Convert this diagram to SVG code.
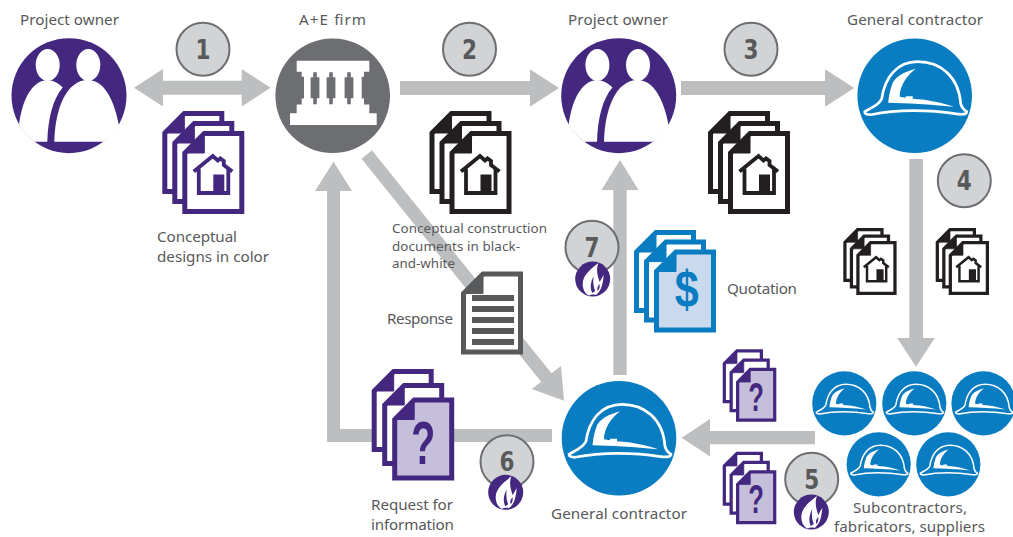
<svg xmlns="http://www.w3.org/2000/svg" width="1013" height="537" viewBox="0 0 1013 537">
<style>
text{font-family:"Noto Sans","Liberation Sans",sans-serif;fill:#58595b;font-size:15.2px}
.s{font-size:13.4px}
.num{font-family:"DejaVu Sans",sans-serif;font-weight:bold;font-size:26px;text-anchor:middle}
.glyph{font-family:"Liberation Sans",sans-serif;font-weight:bold;text-anchor:middle;fill:currentColor}
.arrow{fill:#bcbec0}
.badge{fill:#d1d3d4;stroke:#6d6e71;stroke-width:2}
.pg{stroke:currentColor;stroke-width:5;fill:#fff}
.pg2{stroke:currentColor;stroke-width:5}
.fold{fill:currentColor;stroke:currentColor;stroke-width:1}
.purple{color:#44287f}.black{color:#231f20}.blue{color:#0a7cc1}.dark{color:#58595b}
.lp{fill:#c5bfdc}.lb{fill:#c9d9ee}
.blu{fill:#0a7cc1}.pur{fill:#44287f}
.w{fill:#fff}
</style>
<defs>
<g id="page"><path d="M22 2.500H59.500V80.500H2.500V22Z"/><path class="fold" d="M2.500 22L22 2.500V22Z"/></g>
<g id="house">
<path d="M11.500 40.500L30.500 25L35.500 29.500L38 27.500L41.500 30V34L50 40.500" fill="none" stroke="currentColor" stroke-width="3.800"/>
<path d="M16.500 38V62H46V38" fill="none" stroke="currentColor" stroke-width="3.800"/>
<rect x="31" y="43.500" width="11" height="19" fill="currentColor"/>
</g>
<g id="stack-house">
<use href="#page" class="pg"/>
<use href="#page" class="pg" x="10" y="10"/>
<use href="#page" class="pg" x="20" y="20"/>
<use href="#house" x="20" y="20"/>
</g>
<g id="stack-q">
<use href="#page" class="pg"/>
<use href="#page" class="pg" x="10.500" y="14"/>
<use href="#page" class="pg2 lp" x="20.500" y="28.500"/>
<text class="glyph" x="51.500" y="94.500" textLength="24" lengthAdjust="spacingAndGlyphs" style="font-size:62px">?</text>
</g>
<g id="people">
<circle r="57.500" class="pur"/>
<ellipse cx="-21.300" cy="-30.700" rx="12" ry="16" class="w"/>
<ellipse cx="19.300" cy="-30.700" rx="12" ry="16" class="w"/>
<path class="w" d="M-50 29C-47 6 -38 -15 -22 -15.500C-15 -15.500 -10 -12 -6.300 -8.300C-16 3 -21 22 -21.700 46H-34.500A57.500 57.500 0 0 1 -50 29Z"/>
<path class="w" d="M50 30C45 4 35 -15.700 19 -15.700C-3 -15.700 -14 14 -14.700 46H34.500A57.500 57.500 0 0 0 50 30Z"/>
</g>
<g id="helmet">
<circle r="57.300" class="blu"/>
<path d="M-50 16C-44 12 -36 10 -33 3C-30 -18 -18 -34 3 -34C25 -34 44 -20 46 8C47 12 49 14 52 16C52 19 47 19 40 18C25 15.500 12 15 -1 15C-20 15 -34 17 -44 19C-48 19 -50 18 -50 16Z" fill="none" stroke="#fff" stroke-width="2.700"/>
<path class="w" d="M1 -27C-10 -24 -21 -19 -23 -10C-25 -4 -26 1 -26.500 7C-8 7.500 15 8.500 39 11C28 7 14 4 -2 3V.500H-9V2L-15 1C-15 -10 -8 -20 1 -27Z"/>
</g>
<g id="flame">
<circle r="17.500" class="pur"/>
<path class="w" d="M5.700 -16C-2 -10 -10 -4 -10 5C-10 11 -7 15 -4 16.500C-2 16 1 15 3 16C6 14 10 10 11 -4C9 -1 8 1 7 3C5 -3 3 -9 5.700 -16Z"/>
<path class="pur" d="M-.500 14C-3 8 -2 3 1 -3C0 4 1 8 2.500 12ZM5 12C4 9 5 7 7 5C7 8 7 10 5 12Z"/>
</g>
</defs>

<g id="connectors">
<polygon class="arrow" points="134,87.700 163,69 163,80.700 241.700,80.700 241.700,69 270.700,87.700 241.700,106.400 241.700,94.700 163,94.700 163,106.400"/>
<polygon class="arrow" points="400,81 530,81 530,69.300 559,88 530,106.700 530,95 400,95"/>
<polygon class="arrow" points="681,81 825,81 825,69.300 854.300,88 825,106.700 825,95 681,95"/>
<polygon class="arrow" points="909.300,159 923,159 923,338 934.800,338 916,366.700 897.200,338 909.300,338"/>
<polygon class="arrow" points="815,431 710,431 710,419 681.700,437.700 710,456.400 710,444.300 815,444.300"/>
<polygon class="arrow" points="552,429 340,429 340,191 352,191 333.500,161.700 315,191 327,191 327,442 552,442"/>
<polygon class="arrow" points="626.700,375 613.300,375 613.300,190 601.500,190 620,160 638.500,190 626.700,190"/>
<polygon class="arrow" points="371.900,150.300 361.500,158.700 541.100,381.700 531.700,389 564,400.700 561,366 551.500,373.300"/>
</g>

<g id="owner-1"><use href="#people" x="69" y="95.700"/><text x="20" y="25" textLength="99">Project owner</text></g>
<g id="ae-firm">
<circle cx="332.700" cy="95.700" r="57.300" fill="#6d6e71"/>
<path class="w" d="M296.700 60.700H369.300V71.700H364V76.700H361.700V98.500H364V104.500H369.300V113.300H376.700V125H290V113.300H296.700V104.500H301.700V98.500H304V76.700H301.700V71.700H296.700Z"/>
<path fill="#6d6e71" d="M313.200 72.300H316.800V77.300H319.400V98.300H316.800V104.300H313.200V98.300H310.600V77.300H313.200ZM329.200 72.300H332.800V77.300H335.400V98.300H332.800V104.300H329.200V98.300H326.600V77.300H329.200ZM347.200 72.300H350.800V77.300H353.400V98.300H350.800V104.300H347.200V98.300H344.600V77.300H347.200Z"/>
<text x="299" y="25" textLength="67">A+E firm</text>
</g>
<g id="owner-2"><use href="#people" x="618.700" y="95.700"/><text x="568" y="25" textLength="100">Project owner</text></g>
<g id="gc-1"><use href="#helmet" x="914.700" y="95.700"/><text x="847" y="25" textLength="136">General contractor</text></g>
<g id="gc-2"><use href="#helmet" x="619" y="438.300"/><text x="551" y="519" textLength="136">General contractor</text></g>

<g id="subcontractors">
<use href="#helmet" transform="translate(844.300 403.300) scale(.56)"/>
<use href="#helmet" transform="translate(914.300 403.300) scale(.56)"/>
<use href="#helmet" transform="translate(983.500 403.300) scale(.56)"/>
<use href="#helmet" transform="translate(878.700 464.300) scale(.56)"/>
<use href="#helmet" transform="translate(948.300 464.300) scale(.56)"/>
<text x="853" y="512.700" textLength="114">Subcontractors,</text>
<text x="834" y="531.700" textLength="151">fabricators, suppliers</text>
</g>

<g id="doc-designs" class="purple"><use href="#stack-house" x="162.300" y="111"/>
<text x="157" y="242" textLength="80">Conceptual</text><text x="157" y="262" textLength="112">designs in color</text></g>
<g id="doc-construction" class="black"><use href="#stack-house" x="429.500" y="111"/>
<text class="s" x="392" y="233" textLength="155">Conceptual construction</text>
<text class="s" x="392" y="251" textLength="128">documents in black-</text>
<text class="s" x="392" y="268" textLength="63">and-white</text></g>
<g id="doc-3" class="black"><use href="#stack-house" x="708" y="111"/></g>
<g id="doc-4a" class="black"><use href="#stack-house" transform="translate(843.300 228) scale(.65)"/></g>
<g id="doc-4b" class="black"><use href="#stack-house" transform="translate(935.700 228) scale(.65)"/></g>

<g id="doc-response" class="dark">
<use href="#page" class="pg" x="461" y="271.500"/>
<g fill="#58595b"><rect x="472" y="295" width="42" height="6"/><rect x="472" y="306" width="42" height="6"/><rect x="472" y="317" width="42" height="6"/><rect x="472" y="328" width="42" height="6"/><rect x="472" y="339" width="42" height="6"/></g>
<text x="387" y="324" textLength="66">Response</text>
</g>
<g id="doc-quotation" class="blue">
<use href="#page" class="pg" x="634" y="230"/>
<use href="#page" class="pg" x="644" y="239.600"/>
<use href="#page" class="pg2 lb" x="654" y="249.500"/>
<text class="glyph" x="686.700" y="307" textLength="24" lengthAdjust="spacingAndGlyphs" style="font-size:52px">$</text>
<text x="727" y="294" textLength="70">Quotation</text>
</g>
<g id="doc-rfi" class="purple"><use href="#stack-q" x="371.700" y="369"/>
<text x="371" y="510" textLength="82">Request for</text><text x="371" y="530" textLength="83">information</text></g>
<g id="doc-q1" class="purple"><use href="#stack-q" transform="translate(722.700 349.300) scale(.65)"/></g>
<g id="doc-q2" class="purple"><use href="#stack-q" transform="translate(722.700 451.700) scale(.65)"/></g>

<g id="badge-1"><circle class="badge" cx="203" cy="49.300" r="26.500"/><text class="num" x="203" y="59" textLength="15" lengthAdjust="spacingAndGlyphs">1</text></g>
<g id="badge-2"><circle class="badge" cx="469.500" cy="49.300" r="26.500"/><text class="num" x="469.500" y="59" textLength="15" lengthAdjust="spacingAndGlyphs">2</text></g>
<g id="badge-3"><circle class="badge" cx="751" cy="49.300" r="26.500"/><text class="num" x="751" y="59" textLength="15" lengthAdjust="spacingAndGlyphs">3</text></g>
<g id="badge-4"><circle class="badge" cx="964.300" cy="180.700" r="26.500"/><text class="num" x="964.300" y="190" textLength="15" lengthAdjust="spacingAndGlyphs">4</text></g>
<g id="badge-5"><circle class="badge" cx="811.700" cy="479.300" r="26.500"/><text class="num" x="811.700" y="489" textLength="15" lengthAdjust="spacingAndGlyphs">5</text><use href="#flame" x="811.300" y="512"/></g>
<g id="badge-6"><circle class="badge" cx="507" cy="461.700" r="26.500"/><text class="num" x="507" y="471" textLength="15" lengthAdjust="spacingAndGlyphs">6</text><use href="#flame" x="505.700" y="492.300"/></g>
<g id="badge-7"><circle class="badge" cx="592" cy="247.300" r="26.500"/><text class="num" x="592" y="257" textLength="15" lengthAdjust="spacingAndGlyphs">7</text><use href="#flame" x="592.700" y="279"/></g>
</svg>
